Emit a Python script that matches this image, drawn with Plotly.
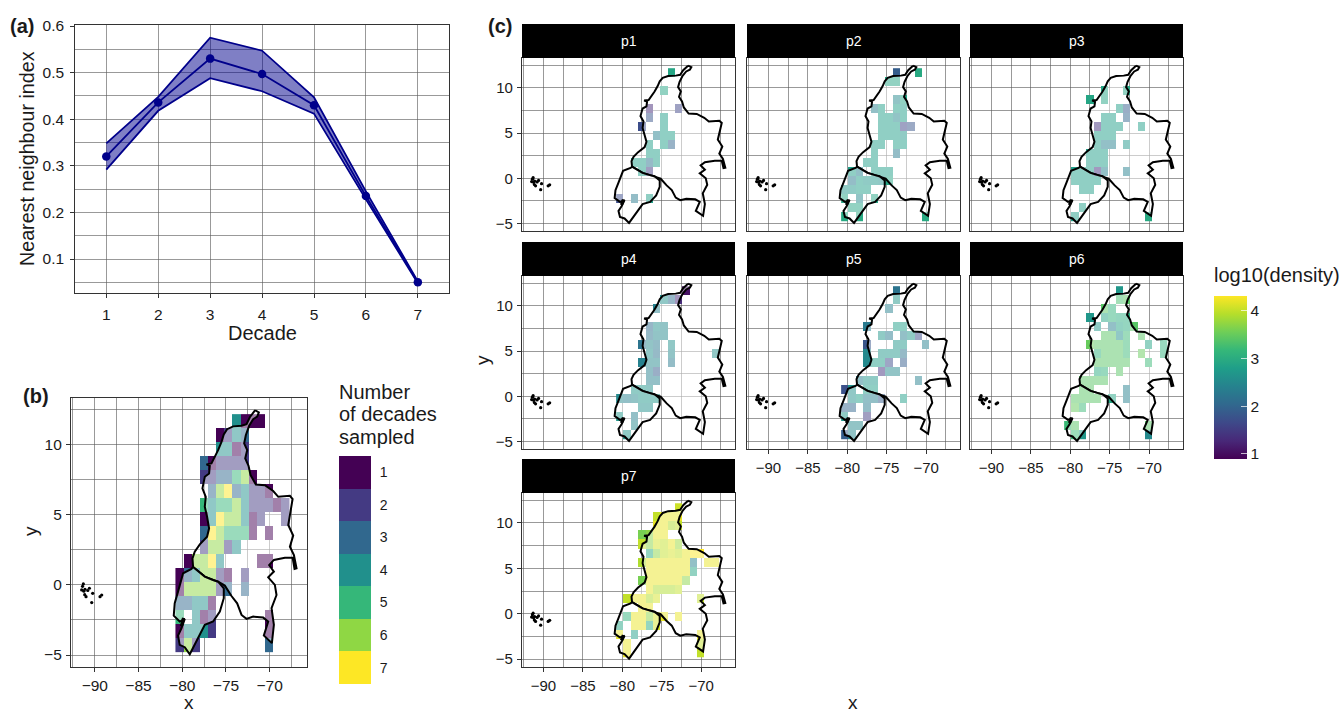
import plotly.graph_objects as go

W, H = 1343, 713
FONT = "Liberation Sans"
INK = "#1a1a1a"
GRID = "rgba(90,90,90,0.62)"
FRAME = "#333333"

# ---------- panel (a) data ----------
decades = [1, 2, 3, 4, 5, 6, 7]
nni_mean = [0.320, 0.436, 0.530, 0.497, 0.430, 0.235, 0.050]
nni_upper = [0.348, 0.448, 0.575, 0.547, 0.447, 0.245, 0.052]
nni_lower = [0.292, 0.418, 0.488, 0.460, 0.412, 0.228, 0.048]

# ---------- raster cell centres ----------
lon_centers = [-80.31, -79.375, -78.44, -77.505, -76.57, -75.635, -74.70,
               -73.765, -72.83, -71.895, -70.96, -70.025, -69.09, -68.155]
lat_centers = [11.67, 10.67, 9.68, 8.68, 7.69, 6.69, 5.69, 4.70, 3.70,
               2.70, 1.71, 0.71, -0.28, -1.28, -2.28, -3.27, -4.27]

# ---------- panel (b): decades sampled, {row: {column: value}} ----------
decades_sampled = {
    0: {7: 4, 8: 1, 9: 1, 10: 1},
    1: {5: 1, 6: 2, 7: 4, 8: 3},
    2: {5: 4, 6: 4, 7: 1, 8: 2},
    3: {3: 3, 4: 1, 5: 2, 6: 2, 7: 2, 8: 2},
    4: {3: 2, 4: 2, 5: 3, 6: 3, 7: 5, 8: 6, 9: 1},
    5: {4: 3, 5: 6, 6: 7, 7: 3, 8: 4, 9: 2, 10: 2, 11: 1},
    6: {3: 5, 4: 4, 5: 5, 6: 5, 7: 6, 8: 4, 9: 2, 10: 2, 11: 2, 12: 1, 13: 2},
    7: {3: 1, 4: 4, 5: 7, 6: 6, 7: 6, 8: 4, 9: 1, 10: 2, 13: 2},
    8: {3: 3, 4: 7, 5: 6, 6: 5, 7: 5, 8: 5, 9: 1, 11: 1},
    9: {3: 2, 4: 6, 5: 6, 6: 2, 7: 4},
    10: {1: 1, 2: 6, 3: 6, 4: 7, 5: 4, 10: 1, 11: 1},
    11: {0: 1, 1: 3, 2: 4, 3: 6, 4: 6, 5: 2, 6: 1, 8: 2},
    12: {0: 1, 1: 6, 2: 6, 3: 6, 4: 6, 5: 2, 6: 3, 8: 3},
    13: {0: 3, 1: 3, 2: 4, 3: 4, 4: 1},
    14: {0: 5, 2: 4, 3: 1, 4: 2, 11: 1},
    15: {0: 1, 1: 4, 2: 4, 3: 4, 4: 2, 11: 1},
    16: {0: 2, 1: 6, 2: 2, 11: 3},
}

# ---------- panel (c): log10(density), {row: {column: value}} ----------
p1 = {
    0: {7: 2.9}, 2: {6: 2.9}, 4: {4: 1.3, 8: 1.6}, 5: {4: 1.8, 6: 2.8},
    6: {3: 1.7, 6: 2.8}, 7: {5: 2.4, 6: 2.8, 7: 2.8}, 8: {4: 2.8, 6: 2.8, 7: 2.0},
    9: {4: 2.8, 5: 2.8}, 10: {2: 2.8, 3: 2.8, 4: 2.2, 5: 2.8},
    11: {3: 2.8, 4: 1.5}, 14: {0: 1.7, 2: 2.3, 4: 2.8},
}
p2 = {
    0: {7: 1.9, 10: 2.95}, 1: {6: 2.9, 7: 2.9}, 3: {7: 2.5, 8: 2.9},
    4: {4: 2.4, 5: 2.8, 7: 2.8, 8: 2.8}, 5: {5: 2.8, 6: 2.8, 7: 2.5, 8: 2.8},
    6: {5: 2.8, 6: 2.8, 7: 2.8, 8: 1.6, 9: 1.8}, 7: {5: 2.8, 6: 2.8, 7: 2.8, 8: 2.7},
    8: {4: 2.8, 5: 2.8, 7: 2.8, 8: 2.8}, 9: {4: 2.8, 7: 2.3}, 10: {3: 2.8, 4: 2.8},
    11: {1: 2.8, 2: 2.4, 4: 2.8, 5: 2.8, 6: 2.8},
    12: {1: 2.3, 2: 2.8, 3: 2.7, 4: 2.7, 5: 2.6, 6: 2.9},
    13: {0: 2.7, 1: 2.7, 2: 2.8, 3: 2.8}, 14: {0: 2.9, 2: 2.5, 4: 2.9},
    15: {1: 2.9, 2: 2.9}, 16: {0: 2.95, 2: 2.95, 11: 2.95},
}
p3 = {
    2: {5: 2.9, 8: 2.9}, 3: {3: 2.9, 5: 2.9}, 4: {7: 2.8, 8: 1.9},
    5: {5: 2.8, 6: 2.8, 8: 2.0}, 6: {4: 1.4, 5: 2.8, 6: 2.8, 7: 2.8, 10: 2.8},
    7: {4: 2.8, 5: 2.8, 6: 2.8}, 8: {4: 2.8, 5: 2.4, 6: 2.4, 8: 2.7},
    9: {3: 2.8, 4: 2.8, 5: 2.8}, 10: {3: 2.8, 4: 2.8, 5: 2.8},
    11: {1: 2.8, 2: 2.8, 3: 2.8, 4: 1.4, 5: 2.4, 8: 2.4},
    12: {1: 2.8, 2: 2.8, 3: 2.8, 4: 2.8}, 13: {2: 2.8, 3: 2.8},
    15: {2: 2.8}, 16: {1: 2.8, 11: 2.95},
}
p4 = {
    0: {9: 1.05}, 1: {6: 2.6, 7: 2.1, 8: 1.3}, 2: {5: 2.4},
    4: {4: 2.1, 5: 2.6, 6: 2.5}, 5: {4: 2.2, 5: 2.5, 6: 2.5},
    6: {3: 2.2, 4: 2.5, 5: 2.3, 7: 2.6}, 7: {4: 2.6, 5: 2.2, 7: 2.5, 13: 2.6},
    8: {3: 2.4, 4: 2.5, 5: 2.5, 7: 2.3}, 9: {4: 2.4, 5: 1.9}, 10: {4: 2.4, 5: 2.4},
    11: {2: 2.7, 3: 2.7, 4: 2.6}, 12: {0: 2.5, 1: 2.4, 2: 2.5, 3: 2.7, 4: 2.7, 5: 2.7},
    13: {3: 2.6, 4: 2.6}, 14: {0: 2.7, 2: 2.4}, 15: {2: 2.5}, 16: {1: 2.7},
}
p5 = {
    0: {7: 2.2}, 1: {7: 2.7}, 2: {6: 2.4}, 4: {3: 2.3, 7: 2.8, 8: 2.8},
    5: {5: 2.7, 6: 2.3, 8: 2.4, 9: 2.7, 10: 1.7}, 6: {3: 1.8, 7: 2.7, 8: 2.7, 11: 2.4},
    7: {3: 2.5, 5: 2.7, 6: 2.7, 7: 2.7, 8: 2.2}, 8: {3: 2.5, 4: 2.8, 5: 2.8, 6: 1.7, 8: 1.9},
    9: {5: 1.4, 6: 2.5, 7: 2.5}, 10: {2: 2.4, 3: 2.7, 4: 2.7, 10: 2.4},
    11: {0: 1.75, 1: 2.6, 3: 2.8, 4: 2.8}, 12: {1: 2.6, 2: 2.8, 3: 2.4, 4: 2.4, 5: 1.9, 8: 2.8},
    13: {0: 2.0, 1: 2.0, 3: 2.3}, 14: {0: 2.7, 3: 1.5}, 15: {1: 2.5, 2: 2.5},
    16: {0: 1.9, 1: 2.5},
}
p6 = {
    0: {7: 2.7}, 1: {7: 3.3, 8: 3.4}, 2: {5: 3.4, 6: 3.1},
    3: {3: 2.7, 5: 2.9, 6: 3.1, 7: 3.0, 8: 3.0},
    4: {4: 2.7, 6: 2.4, 7: 2.9, 8: 3.0, 9: 3.4}, 5: {5: 3.4, 6: 3.4, 7: 2.6, 8: 3.2, 10: 3.4},
    6: {3: 3.5, 4: 3.4, 5: 3.4, 6: 3.4, 7: 3.4, 8: 3.2, 11: 2.9, 13: 3.1},
    7: {4: 3.1, 5: 3.4, 6: 3.4, 7: 3.4, 8: 3.2, 10: 3.5, 13: 3.1},
    8: {4: 3.4, 5: 3.4, 6: 3.4, 7: 3.4, 8: 3.4, 11: 3.2}, 9: {4: 3.0, 5: 3.1, 7: 3.4},
    10: {2: 3.4, 3: 3.4, 4: 3.4, 5: 3.4}, 11: {2: 3.4, 3: 3.4, 8: 2.4},
    12: {1: 3.4, 2: 3.4, 3: 3.4, 4: 3.4, 6: 2.9, 8: 2.4}, 13: {1: 3.5, 2: 3.2},
    15: {0: 3.2, 1: 3.4, 11: 3.4}, 16: {1: 3.2, 2: 2.7, 11: 2.5},
}
p7 = {
    0: {8: 4.05}, 1: {5: 4.0, 6: 4.2, 7: 4.2, 8: 4.2}, 2: {5: 4.2, 6: 4.2, 7: 3.9, 8: 4.0},
    3: {3: 3.6, 4: 3.7, 5: 4.2, 6: 4.2}, 4: {3: 4.0, 4: 3.7, 5: 4.1, 6: 4.0, 7: 4.2, 8: 3.8},
    5: {4: 3.0, 5: 3.7, 6: 4.0, 7: 4.1, 8: 4.0, 9: 4.2, 10: 4.3, 11: 4.3},
    6: {3: 3.9, 4: 4.2, 5: 4.2, 6: 4.2, 7: 4.2, 8: 4.2, 9: 4.2, 10: 2.4, 12: 4.2, 13: 4.2},
    7: {4: 4.2, 5: 4.2, 6: 4.2, 7: 4.2, 8: 4.2, 9: 4.2, 10: 2.9},
    8: {3: 3.6, 4: 4.2, 5: 4.2, 6: 4.2, 7: 4.2, 8: 4.2, 9: 3.7},
    9: {4: 4.2, 5: 3.9, 6: 3.9, 7: 3.9, 8: 4.0},
    10: {1: 4.0, 2: 4.2, 3: 4.2, 4: 3.9, 5: 4.1, 11: 4.0}, 11: {3: 4.2, 4: 4.2},
    12: {1: 3.1, 2: 4.2, 3: 4.2, 4: 3.7, 5: 4.1, 6: 4.2, 8: 4.2},
    13: {0: 2.9, 2: 4.2, 3: 4.2, 4: 3.0, 5: 4.1}, 14: {0: 4.2, 2: 2.8, 11: 4.2},
    15: {1: 4.2, 11: 4.0}, 16: {1: 4.2, 11: 4.0},
}
facet_names = ["p1", "p2", "p3", "p4", "p5", "p6", "p7"]
facet_values = [p1, p2, p3, p4, p5, p6, p7]

# ---------- map outlines ----------
colombia_lon = [-71.66, -71.24, -71.43, -71.89, -72.35, -72.73, -72.92, -72.57, -72.8, -72.42, -72.19, -71.58,
                -70.55, -69.6, -69.02, -67.69, -67.38, -67.61, -67.88, -67.31, -67.69, -67.23, -66.93, -67.16,
                -67.38, -68.26, -69.52, -70.06, -69.52, -70.17, -69.41, -69.22, -69.79, -69.52, -69.75, -70.67,
                -70.17, -70.74, -71.89, -72.65, -73.22, -73.72, -74.37, -75.13, -75.9, -76.47, -77.42, -78.76,
                -78.83, -78.57, -77.99, -77.16, -76.93, -77.16, -77.42, -77.31, -77.69, -77.42, -76.93, -76.85,
                -77.23, -76.66, -76.24, -75.9, -75.51, -75.25, -74.87, -74.18, -73.22, -72.65, -72.27, -71.66]
colombia_lat = [12.45, 12.29, 12.0, 11.81, 11.34, 10.67, 10.08, 9.61, 9.01, 8.49, 7.83, 7.16,
                7.11, 6.69, 6.28, 6.35, 6.12, 5.33, 4.27, 3.51, 2.73, 2.13, 1.18, 1.14,
                1.94, 1.94, 1.78, 1.42, 0.95, 0.54, 0.0, -0.72, -1.66, -2.85, -4.15, -3.61,
                -2.61, -2.33, -2.26, -2.42, -2.14, -1.31, -0.79, -0.05, 0.23, 0.35, 0.59, 1.28,
                1.89, 2.37, 2.89, 3.44, 4.03, 4.86, 5.57, 6.28, 6.88, 7.71, 7.94, 8.49,
                8.59, 8.66, 9.13, 9.6, 10.2, 10.72, 11.1, 11.3, 11.35, 11.45, 11.95, 12.45]
ecuador_lon = [-78.76, -77.42, -76.47, -75.9, -75.25, -75.25, -75.7, -76.47, -77.42, -77.99, -78.76, -79.14,
               -79.71, -80.29, -80.48, -80.09, -79.71, -80.29, -80.97, -80.86, -80.48, -80.21, -79.9, -78.95, -78.76]
ecuador_lat = [1.28, 0.59, 0.35, 0.23, -0.24, -0.95, -1.9, -2.61, -2.85, -3.56, -4.51, -4.94,
               -4.44, -4.27, -3.61, -3.09, -2.42, -2.61, -2.19, -1.31, -0.48, 0.23, 0.83, 1.14, 1.28]
puna_lon = [-80.1, -79.85]
puna_lat = [-2.95, -2.35]
galapagos_lon = [-91.31, -91.4, -91.5, -91.12, -91.25, -90.62, -90.8, -91.0, -91.15, -90.24, -90.35, -89.4, -89.21]
galapagos_lat = [0.07, -0.1, -0.36, -0.31, -0.45, -0.24, -0.4, -0.84, -0.7, -0.6, -1.26, -0.84, -0.72]

# ---------- axes ----------
decade_ticks = [1, 2, 3, 4, 5, 6, 7]
nni_ticks = [0.1, 0.2, 0.3, 0.4, 0.5, 0.6]
lon_ticks = [-90, -85, -80, -75, -70]
lat_ticks = [-5, 0, 5, 10]
legend_levels = [1, 2, 3, 4, 5, 6, 7]
LON_RANGE = [-92.72, -65.7]
LAT_RANGE = [-5.83, 13.3]

viridis7 = ["#440154", "#443A83", "#31688E", "#21908C", "#35B779", "#8FD744", "#FDE725"]
discrete = []
for i, c in enumerate(viridis7):
    discrete += [[i / 7, c], [(i + 1) / 7, c]]

fig = go.Figure()
layout = dict(
    width=W, height=H, margin=dict(l=0, r=0, t=0, b=0, autoexpand=False), paper_bgcolor="white",
    plot_bgcolor="white", showlegend=False, font=dict(family=FONT, color=INK),
)
shapes, annotations = [], []


def px_x(a, b):
    return [a / W, b / W]


def px_y(top, bottom):
    return [1 - bottom / H, 1 - top / H]


def label(x, y, text, size, bold=False, anchor="center", angle=0, color=INK):
    annotations.append(dict(
        x=x / W, y=1 - y / H, xref="paper", yref="paper", text=f"<b>{text}</b>" if bold else text,
        showarrow=False, xanchor=anchor, yanchor="middle", textangle=angle,
        font=dict(size=size, family=FONT, color=color),
    ))


def set_axes(n, dom_x, dom_y, xr, yr, xticks, yticks, show_x, show_y, size=15, xminor=None, yminor=None, standoff=1):
    sfx = "" if n == 1 else str(n)
    common = dict(
        showline=True, linecolor=FRAME, linewidth=1.2, mirror=True, zeroline=False, showgrid=True,
        gridcolor=GRID, gridwidth=0.8, ticks="outside", ticklen=4, tickcolor=FRAME, tickwidth=1,
        ticklabelstandoff=standoff, tickfont=dict(size=size, family=FONT, color=INK),
    )
    xa = dict(common, domain=dom_x, range=xr, tickvals=xticks, anchor="y" + sfx, showticklabels=show_x)
    ya = dict(common, domain=dom_y, range=yr, tickvals=yticks, anchor="x" + sfx, showticklabels=show_y)
    if not show_x:
        xa["ticks"] = ""
    if not show_y:
        ya["ticks"] = ""
    if xminor:
        xa["minor"] = dict(tickvals=xminor, showgrid=True, gridcolor=GRID, gridwidth=0.8, ticks="")
    if yminor:
        ya["minor"] = dict(tickvals=yminor, showgrid=True, gridcolor=GRID, gridwidth=0.8, ticks="")
    layout["xaxis" + sfx] = xa
    layout["yaxis" + sfx] = ya


def matrix(sparse):
    return [[sparse.get(r, {}).get(c) for c in range(len(lon_centers))] for r in range(len(lat_centers))]


def add_map(n):
    xa, ya = "x" + ("" if n == 1 else str(n)), "y" + ("" if n == 1 else str(n))
    for lons, lats in ((colombia_lon, colombia_lat), (ecuador_lon, ecuador_lat)):
        fig.add_trace(go.Scatter(x=lons, y=lats, xaxis=xa, yaxis=ya, mode="lines", fill="toself",
                                 fillcolor="rgba(255,255,255,0.5)", line=dict(color="black", width=2),
                                 hoverinfo="skip"))
    fig.add_trace(go.Scatter(x=puna_lon, y=puna_lat, xaxis=xa, yaxis=ya, mode="lines",
                             line=dict(color="black", width=3.2), hoverinfo="skip"))
    fig.add_trace(go.Scatter(x=galapagos_lon, y=galapagos_lat, xaxis=xa, yaxis=ya, mode="markers",
                             marker=dict(color="black", size=3.2), hoverinfo="skip"))


lon_minor = [-92.5, -87.5, -82.5, -77.5, -72.5, -67.5]
lat_minor = [-2.5, 2.5, 7.5, 12.5]

# ---------- panel (a) ----------
set_axes(1, px_x(75.3, 449), px_y(25.3, 293.3), [0.403, 7.6], [0.0264, 0.6015], decade_ticks, nni_ticks, True, True,
         size=15.5, yminor=[0.05, 0.15, 0.25, 0.35, 0.45, 0.55], standoff=3)
fig.add_trace(go.Scatter(x=decades, y=nni_upper, xaxis="x", yaxis="y", mode="lines",
                         line=dict(color="#00008B", width=1.8)))
fig.add_trace(go.Scatter(x=decades, y=nni_lower, xaxis="x", yaxis="y", mode="lines", fill="tonexty",
                         fillcolor="rgba(0,0,139,0.5)", line=dict(color="#00008B", width=1.8)))
fig.add_trace(go.Scatter(x=decades, y=nni_mean, xaxis="x", yaxis="y", mode="lines+markers",
                         line=dict(color="#00008B", width=1.8), marker=dict(color="#00008B", size=8.5)))
label(262, 333, "Decade", 20)
label(27, 159, "Nearest neighbour index", 19.7, angle=-90)
label(22, 26, "(a)", 20, bold=True)

# ---------- panel (b) ----------
set_axes(2, px_x(71, 307.3), px_y(398.3, 666.7), LON_RANGE, LAT_RANGE, lon_ticks, lat_ticks, True, True,
         size=15.5, xminor=lon_minor, yminor=lat_minor)
fig.add_trace(go.Heatmap(x=lon_centers, y=lat_centers, z=matrix(decades_sampled), xaxis="x2", yaxis="y2",
                         colorscale=discrete, zmin=0.5, zmax=7.5, showscale=False, hoverongaps=False))
add_map(2)
label(189, 702, "x", 19)
label(30, 531, "y", 19, angle=-90)
label(36, 396, "(b)", 20, bold=True)

# legend of panel (b), a one-column heatmap on its own axes
layout["xaxis3"] = dict(domain=px_x(339, 371), range=[0, 1], visible=False, anchor="y3")
layout["yaxis3"] = dict(domain=px_y(456, 684), range=[7.5, 0.5], anchor="x3", side="right", tickvals=legend_levels,
                        showgrid=False, zeroline=False, showline=False, ticks="outside", ticklen=5,
                        tickcolor="rgba(0,0,0,0)", tickfont=dict(size=14, family=FONT, color=INK))
fig.add_trace(go.Heatmap(x=[0.5], y=legend_levels, z=[[v] for v in legend_levels], xaxis="x3", yaxis="y3",
                         colorscale=discrete, zmin=0.5, zmax=7.5, showscale=False))
label(337, 392, "Number", 20, anchor="left")
label(337, 414, "of decades", 20, anchor="left")
label(337, 437, "sampled", 20, anchor="left")

# ---------- panel (c) ----------
col_px = [(522, 735), (747, 960), (970, 1183)]
row_px = [(58, 231), (276, 449), (493, 666.7)]
STRIP = 34
for k, (name, values) in enumerate(zip(facet_names, facet_values)):
    r, c = divmod(k, 3)
    n = 4 + k
    x0, x1 = col_px[c]
    y0, y1 = row_px[r]
    set_axes(n, px_x(x0, x1), px_y(y0, y1), LON_RANGE, LAT_RANGE, lon_ticks, lat_ticks,
             show_x=k >= 4, show_y=c == 0, size=15, xminor=lon_minor, yminor=lat_minor)
    hm = dict(colorscale="Viridis", zmin=0.89, zmax=4.31, hoverongaps=False)
    if k == 0:
        hm.update(showscale=True, colorbar=dict(
            x=1214 / W, xanchor="left", y=1 - 296 / H, yanchor="top", lenmode="pixels", len=162.7,
            thicknessmode="pixels", thickness=33, xpad=0, ypad=0, outlinewidth=0, tickvals=[1, 2, 3, 4],
            ticks="inside", ticklen=6, tickcolor="rgba(255,255,255,0.7)", tickwidth=1, tickprefix="\u00a0\u00a0",
            tickfont=dict(size=15.5, family=FONT, color=INK)))
    else:
        hm.update(showscale=False)
    fig.add_trace(go.Heatmap(x=lon_centers, y=lat_centers, z=matrix(values), xaxis=f"x{n}", yaxis=f"y{n}", **hm))
    add_map(n)
    shapes.append(dict(type="rect", xref="paper", yref="paper", x0=x0 / W, x1=x1 / W,
                       y0=1 - y0 / H, y1=1 - (y0 - STRIP) / H, fillcolor="black", line=dict(width=0)))
    label((x0 + x1) / 2, y0 - STRIP / 2, name, 14, color="white")
label(853, 702, "x", 19)
label(482, 360, "y", 19, angle=-90)
label(500, 26, "(c)", 20, bold=True)
label(1212, 275, "log10(density)", 20, anchor="left")

layout["shapes"] = shapes
layout["annotations"] = annotations
fig.update_layout(**layout)
fig.write_html("out.html", config={"displayModeBar": False},
               post_script="document.body.style.margin='0';document.body.style.overflow='hidden';")
